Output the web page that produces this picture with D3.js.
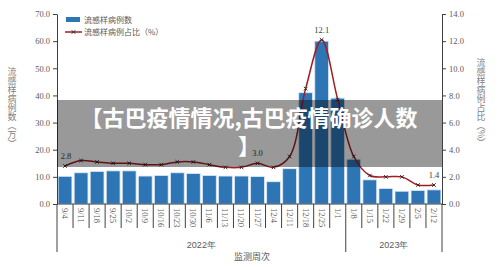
<!DOCTYPE html>
<html>
<head>
<meta charset="utf-8">
<script src="https://cdn.jsdelivr.net/npm/d3@7"></script>
<style>
  body { margin: 0; background: #fff; }
</style>
</head>
<body>
<div id="graph"></div>
<script>
// weekly influenza-like illness chart, bars = cases (万), line = share (%)

var weeks = ["9/4","9/11","9/18","9/25","10/2","10/9","10/16","10/23","10/30","11/6","11/13","11/20",
             "11/27","12/4","12/11","12/18","12/25","1/1","1/8","1/15","1/22","1/29","2/5","2/12"];
var cases = [10.2,11.5,12.0,12.2,12.2,10.3,10.5,11.5,11.2,10.5,10.3,10.3,
             10.1,8.2,13.0,41.0,60.0,39.0,16.5,8.9,5.7,4.7,5.0,5.2];
var ratio = [2.8,3.2,3.1,3.0,3.0,2.9,2.9,3.1,3.1,2.9,2.7,2.7,
             3.0,2.7,3.5,8.5,12.1,7.7,3.5,2.1,2.0,2.0,1.4,1.4];
var labelled = ["9/4","11/27","12/25","2/12"];   // points with a value label
var years = ["2022年","2023年"];
var yearStart = ["9/4","1/8"];
var leftTicks = [0,10,20,30,40,50,60,70];
var rightTicks = [0,2,4,6,8,10,12,14];

var width = 500,
    height = 267,
    margin = {"top": 14, "right": 58, "bottom": 63, "left": 57},
    graph_width = width - (margin.right + margin.left),
    graph_height = height - (margin.top + margin.bottom);

var barColor = "#2e75b6",
    lineColor = "#a01d22",
    axisColor = "#404040",
    textColor = "#595959";

var svg = d3.select("#graph").append("svg")
    .attr("width", width)
    .attr("height", height)
    .style("font-family", "'Liberation Serif', serif");

var graph = svg.append("g")
    .attr("transform", "translate(" + margin.left + "," + margin.top + ")");

var x = d3.scaleBand().domain(weeks).range([0, graph_width]).paddingInner(0.14).paddingOuter(0.07);
var yl = d3.scaleLinear().domain([0, 70]).range([graph_height, 0]);
var yr = d3.scaleLinear().domain([0, 14]).range([graph_height, 0]);
var step = graph_width / weeks.length;

// bars
graph.selectAll(".bar")
    .data(weeks)
  .enter().append("rect")
    .attr("class", "bar")
    .attr("x", (d) => x(d))
    .attr("y", (d, i) => yl(cases[i]))
    .attr("width", x.bandwidth())
    .attr("height", (d, i) => graph_height - yl(cases[i]))
    .attr("fill", barColor)
    .attr("stroke", "#dce8f4")
    .attr("stroke-width", 0.8);

// smoothed ratio line
var line = d3.line()
    .x((d, i) => x(weeks[i]) + x.bandwidth() / 2)
    .y((d) => yr(d))
    .curve(d3.curveCatmullRom.alpha(0.5));

graph.append("path")
    .datum(ratio)
    .attr("d", line)
    .attr("fill", "none")
    .attr("stroke", lineColor)
    .attr("stroke-width", 1.5);

function cross(sel, s) {
    sel.append("path")
        .attr("d", "M" + (-s) + "," + (-s) + "L" + s + "," + s + "M" + (-s) + "," + s + "L" + s + "," + (-s))
        .attr("stroke", "#222")
        .attr("stroke-width", 0.9)
        .attr("fill", "none");
}

graph.selectAll(".marker")
    .data(ratio)
  .enter().append("g")
    .attr("class", "marker")
    .attr("transform", (d, i) => "translate(" + (x(weeks[i]) + x.bandwidth() / 2) + "," + yr(d) + ")")
    .call(cross, 1.8);

graph.selectAll(".vlabel")
    .data(weeks.filter((d) => labelled.indexOf(d) >= 0))
  .enter().append("text")
    .attr("class", "vlabel")
    .attr("x", (d) => x(d) + x.bandwidth() / 2 + (d == "9/4" ? 1 : 0))
    .attr("y", (d) => yr(ratio[weeks.indexOf(d)]) - 7)
    .attr("text-anchor", "middle")
    .attr("font-size", 8.5)
    .attr("fill", axisColor)
    .text((d) => ratio[weeks.indexOf(d)].toFixed(1));

// left axis
graph.append("g")
    .call(d3.axisLeft(yl).tickValues(leftTicks).tickFormat(d3.format(".1f")).tickSize(4).tickSizeOuter(0))
    .call((g) => g.selectAll("line, path").attr("stroke", axisColor))
    .call((g) => g.selectAll("text").attr("fill", textColor).attr("font-size", 8.5).attr("font-family", "'Liberation Serif', serif"));

// right axis
graph.append("g")
    .attr("transform", "translate(" + graph_width + ",0)")
    .call(d3.axisRight(yr).tickValues(rightTicks).tickFormat(d3.format(".1f")).tickSize(4).tickSizeOuter(0))
    .call((g) => g.selectAll("line, path").attr("stroke", axisColor))
    .call((g) => g.selectAll("text").attr("fill", textColor).attr("font-size", 8.5).attr("font-family", "'Liberation Serif', serif"));

// bottom axis: vertical week labels
var xAxis = graph.append("g")
    .attr("transform", "translate(0," + graph_height + ")")
    .call(d3.axisBottom(x).tickSize(0))
    .call((g) => g.select(".domain").attr("stroke", axisColor).attr("d", "M0,0H" + graph_width));

xAxis.selectAll("text")
    .attr("transform", "rotate(90)")
    .attr("x", 4)
    .attr("y", 0)
    .attr("dy", "0.35em")
    .attr("text-anchor", "start")
    .attr("fill", textColor)
    .attr("font-size", 8.5)
    .attr("font-family", "'Liberation Serif', serif");

// category separators, the year edges run longer
var edges = d3.range(weeks.length + 1);
xAxis.selectAll(".sep")
    .data(edges)
  .enter().append("line")
    .attr("class", "sep")
    .attr("x1", (d) => d * step)
    .attr("x2", (d) => d * step)
    .attr("y1", 0)
    .attr("y2", (d) => (d == weeks.length || yearStart.indexOf(weeks[d]) >= 0) ? 48 : 24)
    .attr("stroke", axisColor)
    .attr("stroke-width", 1);

xAxis.selectAll(".year")
    .data(years)
  .enter().append("text")
    .attr("class", "year")
    .attr("x", (d, i) => {
        var a = weeks.indexOf(yearStart[i]) * step;
        var b = i + 1 < years.length ? weeks.indexOf(yearStart[i + 1]) * step : graph_width;
        return (a + b) / 2;
    })
    .attr("y", 44)
    .attr("text-anchor", "middle")
    .attr("font-size", 9)
    .attr("fill", textColor)
    .text((d) => d);

svg.append("text")
    .attr("x", 252)
    .attr("y", 260)
    .attr("text-anchor", "middle")
    .attr("font-size", 9)
    .attr("font-family", "'Noto Sans CJK SC', sans-serif")
    .attr("fill", textColor)
    .text("监测周次");

// axis titles, stacked vertically
svg.append("text")
    .attr("x", 12)
    .attr("y", 67)
    .style("writing-mode", "vertical-rl")
    .attr("font-size", 9)
    .attr("font-family", "'Noto Sans CJK SC', sans-serif")
    .attr("fill", "#7f7f7f")
    .text("流感样病例数（万）");

svg.append("text")
    .attr("x", 481)
    .attr("y", 58)
    .style("writing-mode", "vertical-rl")
    .attr("font-size", 9)
    .attr("font-family", "'Noto Sans CJK SC', sans-serif")
    .attr("fill", "#7f7f7f")
    .text("流感样病例占比（%）");

// legend
var legend = svg.append("g")
    .attr("font-family", "'Noto Sans CJK SC', sans-serif")
    .attr("font-size", 8)
    .attr("fill", textColor);

legend.append("rect")
    .attr("x", 66).attr("y", 17).attr("width", 14).attr("height", 5)
    .attr("fill", barColor);
legend.append("text")
    .attr("x", 84).attr("y", 20).attr("dy", "0.35em")
    .text("流感样病例数");

legend.append("line")
    .attr("x1", 65).attr("x2", 82).attr("y1", 32).attr("y2", 32)
    .attr("stroke", lineColor).attr("stroke-width", 1.5);
legend.append("g")
    .attr("transform", "translate(73.5,32)")
    .call(cross, 1.8);
legend.append("text")
    .attr("x", 84).attr("y", 32).attr("dy", "0.35em")
    .text("流感样病例占比（%）");

// grey banner laid over the plot
svg.append("rect")
    .attr("x", margin.left)
    .attr("y", 100)
    .attr("width", graph_width)
    .attr("height", 67)
    .attr("fill", "#000")
    .attr("opacity", 0.4);

var banner = svg.append("text")
    .attr("text-anchor", "middle")
    .attr("font-family", "'Noto Sans CJK SC', sans-serif")
    .attr("font-weight", "bold")
    .attr("font-size", 22)
    .attr("fill", "#fff");
banner.append("tspan").attr("x", 249).attr("y", 126).text("【古巴疫情情况,古巴疫情确诊人数");
banner.append("tspan").attr("x", 249).attr("y", 154).text("】");
</script>
</body>
</html>
